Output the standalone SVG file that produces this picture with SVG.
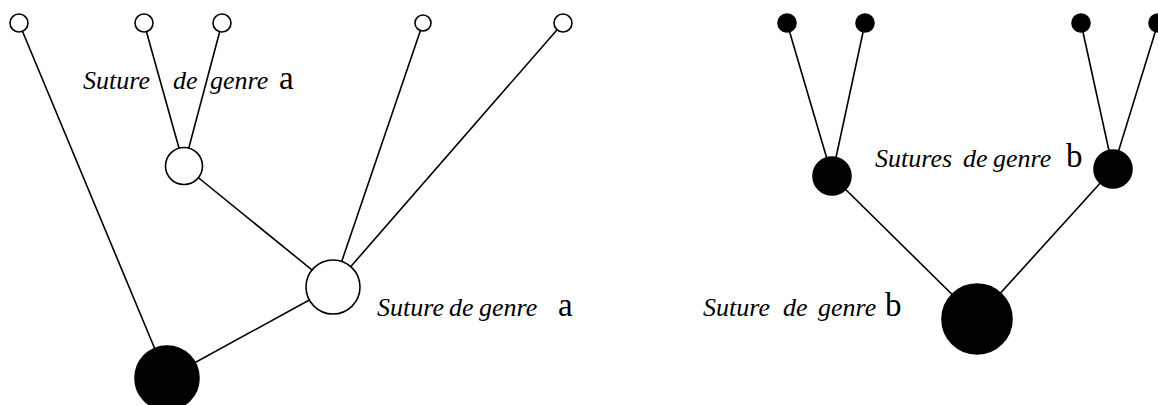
<svg xmlns="http://www.w3.org/2000/svg" width="1158" height="405" viewBox="0 0 1158 405">
  <style>
    .edge { stroke: #000; stroke-width: 1.6; fill: none; }
    .open { fill: #fff; stroke: #000; stroke-width: 1.6; }
    .full { fill: #000; stroke: #000; stroke-width: 1.6; }
    .lbl { font-size: 26px; font-style: italic; fill: #000; }
    .sym { font-style: normal; font-size: 33px; }
  </style>
  <rect width="1158" height="405" fill="#fff"/>

  <!-- connectors -->
  <g id="connectors">
    <!-- left tree -->
    <line class="edge" x1="19" y1="23" x2="167" y2="378"/>
    <line class="edge" x1="144" y1="23" x2="184" y2="166"/>
    <line class="edge" x1="222" y1="23" x2="184" y2="166"/>
    <line class="edge" x1="184" y1="166" x2="333" y2="287"/>
    <line class="edge" x1="423" y1="23" x2="333" y2="287"/>
    <line class="edge" x1="563" y1="23" x2="333" y2="287"/>
    <line class="edge" x1="333" y1="287" x2="167" y2="378"/>
    <!-- right tree -->
    <line class="edge" x1="787" y1="23" x2="832" y2="176"/>
    <line class="edge" x1="865" y1="23" x2="832" y2="176"/>
    <line class="edge" x1="1081" y1="23" x2="1113" y2="169"/>
    <line class="edge" x1="1158" y1="23" x2="1113" y2="169"/>
    <line class="edge" x1="832" y1="176" x2="977" y2="319"/>
    <line class="edge" x1="1113" y1="169" x2="977" y2="319"/>
  </g>

  <!-- left tree nodes -->
  <g id="leaf-l1"><circle class="open" cx="19" cy="23" r="9"/></g>
  <g id="leaf-l2"><circle class="open" cx="144" cy="23" r="9"/></g>
  <g id="leaf-l3"><circle class="open" cx="222" cy="23" r="9"/></g>
  <g id="leaf-l4"><circle class="open" cx="423" cy="23" r="8"/></g>
  <g id="leaf-l5"><circle class="open" cx="563" cy="23" r="9"/></g>
  <g id="node-a1"><circle class="open" cx="184" cy="166" r="18.5"/></g>
  <g id="node-a2"><circle class="open" cx="333" cy="287" r="27"/></g>
  <g id="root-left"><circle class="full" cx="167" cy="378" r="32"/></g>

  <!-- right tree nodes -->
  <g id="leaf-r1"><circle class="full" cx="787" cy="23" r="9"/></g>
  <g id="leaf-r2"><circle class="full" cx="865" cy="23" r="9"/></g>
  <g id="leaf-r3"><circle class="full" cx="1081" cy="23" r="9"/></g>
  <g id="leaf-r4"><circle class="full" cx="1158" cy="23" r="9"/></g>
  <g id="node-b1"><circle class="full" cx="832" cy="176" r="19"/></g>
  <g id="node-b2"><circle class="full" cx="1113" cy="169" r="19"/></g>
  <g id="root-right"><circle class="full" cx="977" cy="319" r="35"/></g>

  <!-- labels -->
  <g id="labels" font-family="'Liberation Serif', 'DejaVu Serif', serif">
    <text class="lbl" y="89"><tspan x="83">Suture</tspan><tspan x="173">de</tspan><tspan x="210">genre</tspan><tspan class="sym" x="279">a</tspan></text>
    <text class="lbl" y="316"><tspan x="377">Suture</tspan><tspan x="449">de</tspan><tspan x="479">genre</tspan><tspan class="sym" x="558">a</tspan></text>
    <text class="lbl" y="167"><tspan x="875">Sutures</tspan><tspan x="963">de</tspan><tspan x="993">genre</tspan><tspan class="sym" x="1066">b</tspan></text>
    <text class="lbl" y="316"><tspan x="703">Suture</tspan><tspan x="783">de</tspan><tspan x="818">genre</tspan><tspan class="sym" x="885">b</tspan></text>
  </g>
</svg>
